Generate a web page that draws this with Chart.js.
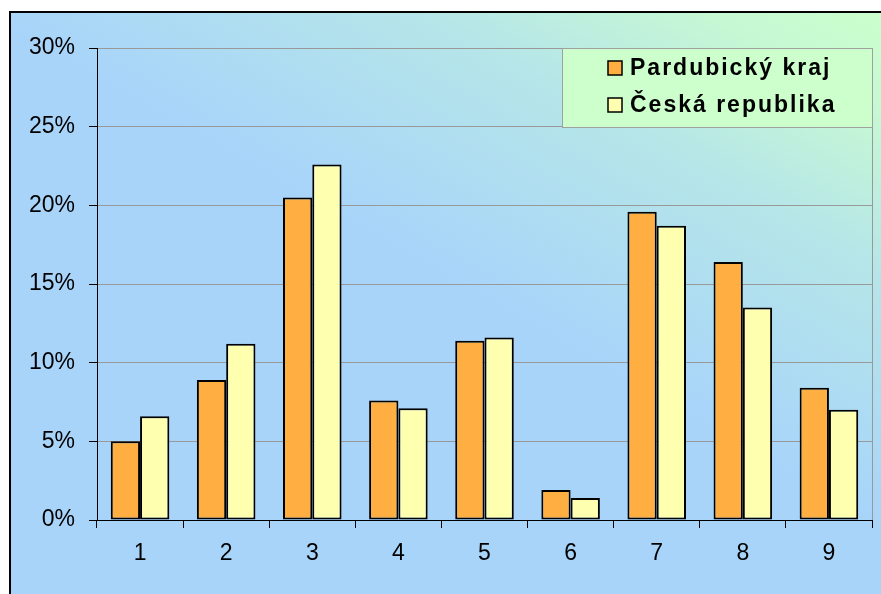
<!DOCTYPE html>
<html>
<head>
<meta charset="utf-8">
<script src="https://cdn.jsdelivr.net/npm/chart.js@4"></script>
<style>
  html, body { margin: 0; padding: 0; background: #fff; }
  canvas { display: block; }
</style>
</head>
<body>
<canvas id="chart" width="881" height="594"></canvas>
<script>
// data
const categories = ["1", "2", "3", "4", "5", "6", "7", "8", "9"];
const pardubickyKraj = [5.0, 8.9, 20.5, 7.6, 11.4, 1.9, 19.6, 16.4, 8.4];
const ceskaRepublika = [6.6, 11.2, 22.6, 7.1, 11.6, 1.4, 18.7, 13.5, 7.0];
const seriesNames = ["Pardubický kraj", "Česká republika"];
const yTicks = [0, 5, 10, 15, 20, 25, 30];

const FONT = "'Liberation Sans', Arial, sans-serif";

// frame + gradient background
const backdrop = {
    id: "backdrop",
    beforeDraw(chart) {
        const c = chart.ctx;
        c.save();
        c.fillStyle = "#fff";
        c.fillRect(0, 0, chart.width, chart.height);
        const g = c.createLinearGradient(881, 12, 660, 400);
        g.addColorStop(0, "#ccffcc");
        g.addColorStop(0.2, "#c6f8d4");
        g.addColorStop(0.5, "#b6e6e8");
        g.addColorStop(1, "#a8d4fa");
        c.fillStyle = g;
        c.fillRect(10, 12, chart.width - 10, chart.height - 12);
        c.strokeStyle = "#000";
        c.lineWidth = 2;
        c.beginPath();
        c.moveTo(10, chart.height);
        c.lineTo(10, 12);
        c.lineTo(chart.width, 12);
        c.stroke();
        c.restore();
    },
    afterDraw(chart) {
        const c = chart.ctx;
        const a = chart.chartArea;
        c.save();
        // right edge of plot
        c.strokeStyle = "#999";
        c.lineWidth = 1;
        c.beginPath();
        c.moveTo(a.right + 0.5, a.top);
        c.lineTo(a.right + 0.5, a.bottom);
        c.stroke();

        // legend box
        const lx = 562, ly = 48, lw = a.right - 562, lh = 79;
        c.fillStyle = "#ccffcc";
        c.fillRect(lx, ly, lw, lh);
        c.strokeStyle = "#a0a0a0";
        c.strokeRect(lx + 0.5, ly + 0.5, lw, lh);
        chart.data.datasets.forEach((ds, i) => {
            const cy = 68 + i * 37;
            c.fillStyle = ds.backgroundColor;
            c.fillRect(608, cy - 7, 14, 14);
            c.strokeStyle = "#000";
            c.lineWidth = 1.5;
            c.strokeRect(608, cy - 7, 14, 14);
            c.fillStyle = "#000";
            c.font = "bold 23px " + FONT;
            c.textBaseline = "middle";
            if ("letterSpacing" in c) c.letterSpacing = "2px";
            c.fillText(ds.label, 630, cy + 1);
        });
        c.restore();
    }
};

new Chart(document.getElementById("chart"), {
    type: "bar",
    data: {
        labels: categories,
        datasets: [
            {
                label: seriesNames[0],
                data: pardubickyKraj,
                backgroundColor: "#ffae42",
                borderColor: "#000",
                borderWidth: 2,
                borderSkipped: false,
                categoryPercentage: 0.68,
                barPercentage: 1.0
            },
            {
                label: seriesNames[1],
                data: ceskaRepublika,
                backgroundColor: "#ffffb0",
                borderColor: "#000",
                borderWidth: 2,
                borderSkipped: false,
                categoryPercentage: 0.68,
                barPercentage: 1.0
            }
        ]
    },
    options: {
        responsive: false,
        animation: false,
        layout: { padding: { left: 10, right: 9, top: 48, bottom: 0 } },
        plugins: {
            legend: { display: false },
            tooltip: { enabled: false }
        },
        scales: {
            x: {
                grid: { drawOnChartArea: false, tickLength: 8, tickColor: "#000", offset: true },
                border: { color: "#000", width: 1 },
                ticks: { color: "#000", font: { family: FONT, size: 23 }, padding: 12, maxRotation: 0 },
                afterFit(s) { s.height = 74; }
            },
            y: {
                min: 0,
                max: 30,
                afterBuildTicks(s) { s.ticks = yTicks.map(v => ({ value: v })); },
                grid: { color: "#999", tickLength: 8, tickColor: "#000" },
                border: { color: "#000", width: 1 },
                ticks: {
                    color: "#000",
                    font: { family: FONT, size: 23 },
                    padding: 14,
                    callback: v => v + "%"
                },
                afterFit(s) { s.width = 87; }
            }
        }
    },
    plugins: [backdrop]
});
</script>
</body>
</html>
